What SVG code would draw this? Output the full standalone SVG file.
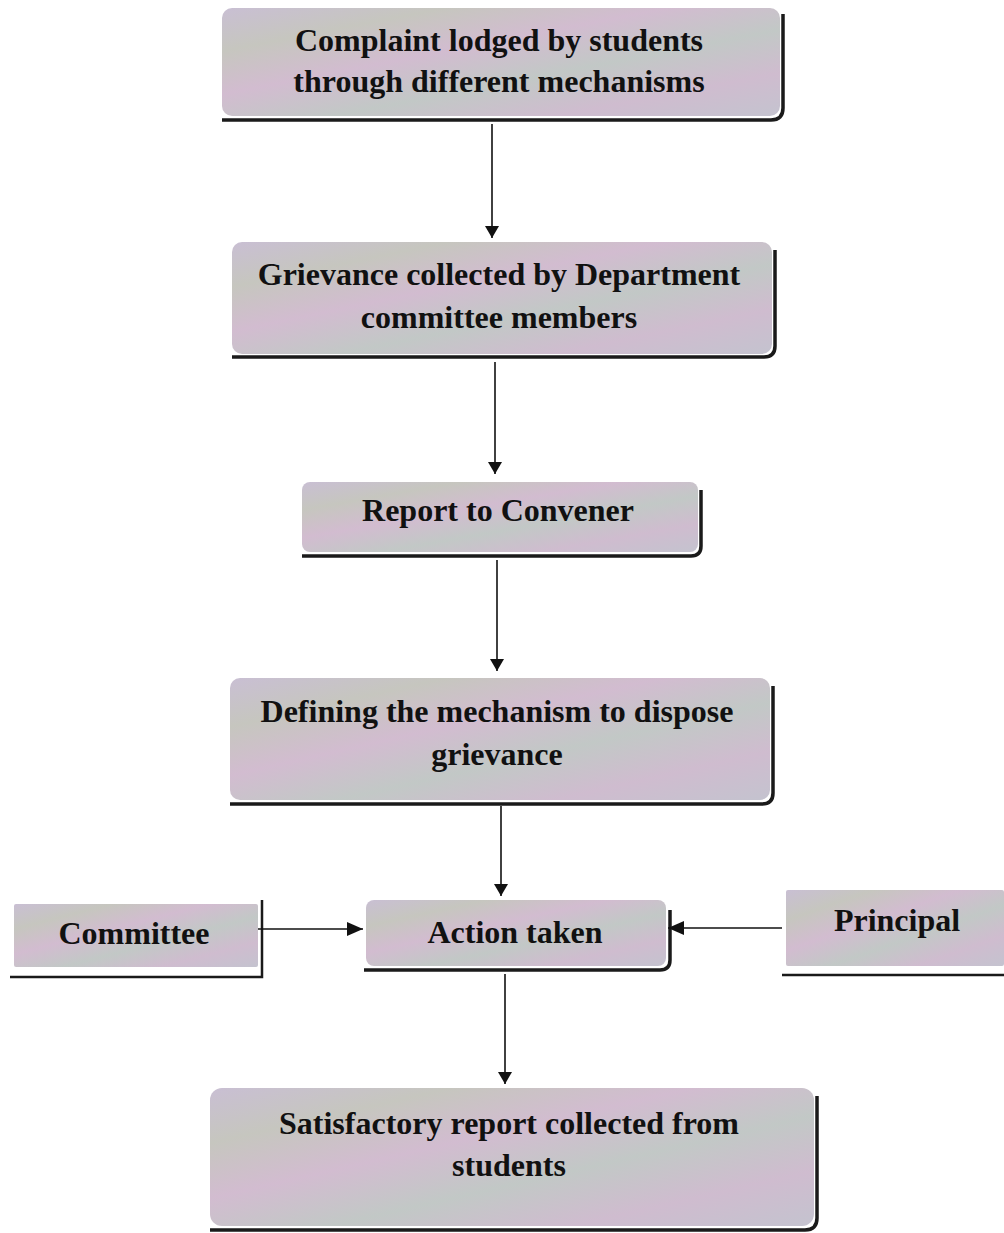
<svg xmlns="http://www.w3.org/2000/svg" width="1004" height="1233" viewBox="0 0 1004 1233">
<defs>
<linearGradient id="tex" x1="0" y1="0" x2="1" y2="1">
<stop offset="0" stop-color="#c9bfd3"/>
<stop offset="0.2" stop-color="#c6c6bf"/>
<stop offset="0.4" stop-color="#d2bcd0"/>
<stop offset="0.6" stop-color="#c2c8c6"/>
<stop offset="0.8" stop-color="#cfbccf"/>
<stop offset="1" stop-color="#c4c3cf"/>
</linearGradient>
<marker id="ah" viewBox="0 0 12 14" refX="12" refY="7" markerWidth="12" markerHeight="14" markerUnits="userSpaceOnUse" orient="auto">
<path d="M0,0 L12,7 L0,14 z" fill="#111"/>
</marker>
<marker id="ahb" viewBox="0 0 16 14" refX="16" refY="7" markerWidth="16" markerHeight="14" markerUnits="userSpaceOnUse" orient="auto">
<path d="M0,0 L16,7 L0,14 z" fill="#111"/>
</marker>
</defs>
<style>
.box{fill:url(#tex);}
.sh{fill:none;stroke:#1a1a1a;stroke-width:3.5;}
.t{font-family:"Liberation Serif","Times New Roman",serif;font-weight:bold;font-size:32px;fill:#111;text-anchor:middle;}
.c{stroke:#111;stroke-width:1.6;fill:none;}
</style>
<rect width="1004" height="1233" fill="#fff"/>
<g id="n1">
<rect class="box" x="222" y="8" width="558" height="108" rx="10"/>
<path class="sh" d="M783,14 V108 Q783,120 771,120 H222"/>
<text class="t" x="499" y="51">Complaint lodged by students</text>
<text class="t" x="499" y="92">through different mechanisms</text>
</g>
<g id="n2">
<rect class="box" x="232" y="242" width="540" height="112" rx="10"/>
<path class="sh" d="M775,250 V346 Q775,357 764,357 H232"/>
<text class="t" x="499" y="285">Grievance collected by Department</text>
<text class="t" x="499" y="328">committee members</text>
</g>
<g id="n3">
<rect class="box" x="302" y="482" width="396" height="70" rx="8"/>
<path class="sh" d="M701,490 V546 Q701,556 691,556 H302"/>
<text class="t" x="498" y="521">Report to Convener</text>
</g>
<g id="n4">
<rect class="box" x="230" y="678" width="540" height="122" rx="10"/>
<path class="sh" d="M773,686 V793 Q773,804 762,804 H230"/>
<text class="t" x="497" y="722">Defining the mechanism to dispose</text>
<text class="t" x="497" y="765">grievance</text>
</g>
<g id="n5">
<rect class="box" x="366" y="900" width="300" height="66" rx="8"/>
<path class="sh" d="M670,910 V960 Q670,970 660,970 H364"/>
<text class="t" x="515" y="943">Action taken</text>
</g>
<g id="n6">
<rect class="box" x="14" y="904" width="244" height="63" rx="2"/>
<path class="sh" d="M262,900 V977 H10" style="stroke-width:2.5"/>
<text class="t" x="134" y="944">Committee</text>
</g>
<g id="n7">
<rect class="box" x="786" y="890" width="218" height="76" rx="2"/>
<path class="sh" d="M782,975 H1004" style="stroke-width:2.5"/>
<text class="t" x="897" y="931">Principal</text>
</g>
<g id="n8">
<rect class="box" x="210" y="1088" width="604" height="138" rx="12"/>
<path class="sh" d="M817,1096 V1218 Q817,1230 805,1230 H210"/>
<text class="t" x="509" y="1134">Satisfactory report collected from</text>
<text class="t" x="509" y="1176">students</text>
</g>
<g id="connectors">
<line class="c" x1="492" y1="124" x2="492" y2="238" marker-end="url(#ah)"/>
<line class="c" x1="495" y1="362" x2="495" y2="474" marker-end="url(#ah)"/>
<line class="c" x1="497" y1="560" x2="497" y2="671" marker-end="url(#ah)"/>
<line class="c" x1="501" y1="806" x2="501" y2="896" marker-end="url(#ah)"/>
<line class="c" x1="505" y1="974" x2="505" y2="1084" marker-end="url(#ah)"/>
<line class="c" x1="258" y1="929" x2="363" y2="929" marker-end="url(#ahb)"/>
<line class="c" x1="782" y1="928" x2="668" y2="928" marker-end="url(#ahb)"/>
</g>
</svg>
